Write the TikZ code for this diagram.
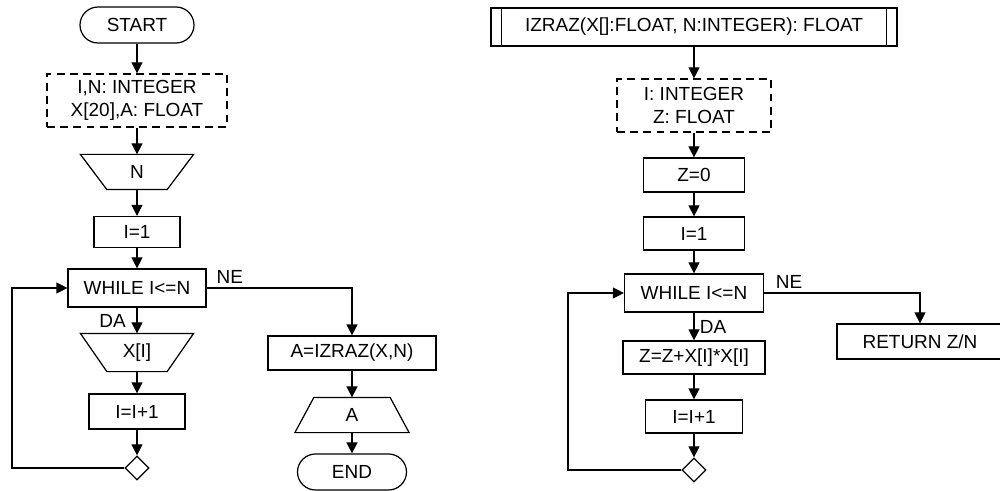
\documentclass[tikz,border=0pt]{standalone}
\usepackage{fontspec}
\setmainfont{Liberation Sans}
\usepackage{tikz}
\usetikzlibrary{arrows.meta,shapes.geometric}

\begin{document}
\begin{tikzpicture}[
        font=\fontsize{10.8}{13}\selectfont,
        every node/.style={line width=0.7pt},
        term/.style={rectangle, draw, rounded corners=0.36cm, minimum height=0.72cm, inner sep=2pt},
        proc/.style={rectangle, draw, minimum height=0.68cm, inner sep=2pt},
        decl/.style={rectangle, draw, dash pattern=on 4.5pt off 3pt, align=center, minimum height=1.06cm, inner sep=2pt},
        io/.style={rectangle, draw=none, minimum height=0.68cm, inner sep=1pt},
        shp/.style={line width=0.7pt, line join=miter},
        mrg/.style={diamond, draw, minimum size=0.48cm, inner sep=0pt},
        lbl/.style={draw=none, fill=none, inner sep=1pt},
        arr/.style={line width=0.7pt, -{Triangle[length=0.22cm, width=0.22cm]}}
    ]
    \useasboundingbox (0,0) rectangle (20,-9.82);

    % Glavni program
    \node[term, minimum width=2.28cm] (start) at (2.74,-0.50) {START};
    \node[decl, minimum width=3.60cm] (decl1) at (2.74,-2.01) {I,N: INTEGER\\X[20],A: FLOAT};
    \node[io, minimum width=2.24cm] (readn) at (2.74,-3.44) {N};
    \draw[shp] (readn.north west) -- (readn.north east) -- ([xshift=-0.53cm]readn.south east)
               -- ([xshift=0.53cm]readn.south west) -- cycle;
    \node[proc, minimum width=1.72cm, minimum height=0.62cm] (init1) at (2.74,-4.64) {I=1};
    \node[proc, minimum width=2.76cm, minimum height=0.76cm] (while1) at (2.74,-5.76) {WHILE I<=N};
    \node[io, minimum width=2.24cm, minimum height=0.74cm] (readx) at (2.74,-7.05) {X[I]};
    \draw[shp] (readx.north west) -- (readx.north east) -- ([xshift=-0.53cm]readx.south east)
               -- ([xshift=0.53cm]readx.south west) -- cycle;
    \node[proc, minimum width=1.92cm, minimum height=0.70cm] (inc1) at (2.74,-8.23) {I=I+1};
    \node[mrg] (dia1) at (2.74,-9.36) {};
    \coordinate (back1) at (0.24,-9.36);
    \node[proc, minimum width=3.36cm] (calc) at (7.04,-7.06) {A=IZRAZ(X,N)};
    \node[io, minimum width=2.26cm] (writea) at (7.04,-8.30) {A};
    \draw[shp] ([xshift=0.38cm]writea.north west) -- ([xshift=-0.38cm]writea.north east)
               -- (writea.south east) -- (writea.south west) -- cycle;
    \node[term, minimum width=2.18cm] (stop) at (7.04,-9.44) {END};

    \draw[arr] (start) -- (decl1);
    \draw[arr] (decl1) -- (readn);
    \draw[arr] (readn) -- (init1);
    \draw[arr] (init1) -- (while1);
    \draw[arr] (while1) -- (readx) node[lbl, pos=0.5, left, xshift=-5pt] {DA};
    \draw[arr] (readx) -- (inc1);
    \draw[arr] (inc1) -- (dia1);
    \draw[arr] (dia1.west) -- (back1) |- (while1.west);
    \draw[arr] (while1.east) -| (calc.north) node[lbl, pos=0.08, above, yshift=1pt] {NE};
    \draw[arr] (calc) -- (writea);
    \draw[arr] (writea) -- (stop);

    % Funkcija IZRAZ
    \node[proc, minimum width=8.12cm, minimum height=0.76cm] (title) at (13.88,-0.54) {IZRAZ(X[]:FLOAT, N:INTEGER): FLOAT};
    \draw[line width=0.7pt] ([xshift=0.22cm]title.north west) -- ([xshift=0.22cm]title.south west)
                            ([xshift=-0.22cm]title.north east) -- ([xshift=-0.22cm]title.south east);
    \node[decl, minimum width=3.08cm] (decl2) at (13.88,-2.11) {I: INTEGER\\Z: FLOAT};
    \node[proc, minimum width=2.02cm] (zero) at (13.88,-3.50) {Z=0};
    \node[proc, minimum width=2.02cm, minimum height=0.66cm] (init2) at (13.88,-4.67) {I=1};
    \node[proc, minimum width=2.78cm, minimum height=0.76cm] (while2) at (13.88,-5.86) {WHILE I<=N};
    \node[proc, minimum width=2.84cm, minimum height=0.66cm] (sum) at (13.88,-7.15) {Z=Z+X[I]*X[I]};
    \node[proc, minimum width=1.94cm, minimum height=0.66cm] (inc2) at (13.88,-8.33) {I=I+1};
    \node[mrg] (dia2) at (13.88,-9.40) {};
    \coordinate (back2) at (11.36,-9.40);
    \node[proc, minimum width=3.32cm, minimum height=0.70cm] (ret) at (18.40,-6.83) {RETURN Z/N};

    \draw[arr] (title) -- (decl2);
    \draw[arr] (decl2) -- (zero);
    \draw[arr] (zero) -- (init2);
    \draw[arr] (init2) -- (while2);
    \draw[arr] (while2) -- (sum) node[lbl, pos=0.5, right, xshift=2pt] {DA};
    \draw[arr] (sum) -- (inc2);
    \draw[arr] (inc2) -- (dia2);
    \draw[arr] (dia2.west) -- (back2) |- (while2.west);
    \draw[arr] (while2.east) -| (ret.north) node[lbl, pos=0.08, above, yshift=1pt] {NE};

\end{tikzpicture}
\end{document}
